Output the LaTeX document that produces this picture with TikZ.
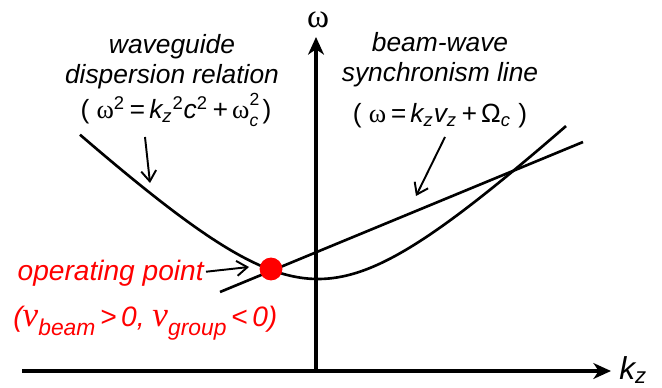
\documentclass[tikz,border=0pt]{standalone}
\usepackage{fontspec}
\setmainfont{Liberation Sans}
\newfontfamily\grk{Liberation Serif}
\usetikzlibrary{arrows.meta,positioning}
\newcommand\bothidx[2]{\rlap{\raisebox{0.5em}{\fontsize{10}{10}\selectfont #1}}\raisebox{-0.3em}{\fontsize{10}{10}\selectfont #2}}
\newcommand\bigv{{\grk\fontsize{20}{20}\selectfont v}}
\newcommand\vidx[1]{\raisebox{-0.35em}{\fontsize{13}{13}\selectfont #1}}
\newcommand\om{{\grk\upshape ω}}
\begin{document}
\begin{tikzpicture}[x=0.02cm, y=-0.02cm]
    \tikzset{
        axis/.style={line width=1.9pt, -{Stealth[length=10pt, width=9pt, inset=3pt]}},
        curve/.style={line width=1.5pt},
        pointer/.style={line width=1.1pt, -{Straight Barb[length=6pt, width=8.5pt]}},
        note/.style={font=\fontsize{15}{17}\selectfont\itshape, align=center, inner sep=0},
        opnote/.style={font=\fontsize{16}{19}\selectfont\itshape, text=red, inner sep=0},
        opdot/.style={circle, fill=red, minimum size=13pt, inner sep=0}
    }
    \useasboundingbox (0,0) rectangle (662,388);

    % axes
    \coordinate (origin) at (316,371);
    \coordinate (kstart) at (22,371);
    \coordinate (kend) at (611,371);
    \coordinate (wend) at (316,37);
    \draw[axis] (kstart) -- (kend);
    \draw[axis] (origin) -- (wend);
    \node[inner sep=0, anchor=base west] (klabel) at (619,379) {\fontsize{18}{18}\selectfont\itshape k\textsubscript{z}};
    \node[inner sep=0] (wlabel) at (318,20) {\grk\fontsize{19}{19}\selectfont ω};

    % dispersion curve and beam line
    \draw[curve] plot[domain=80:566, samples=120, smooth]
        (\x, {279 - 10*(sqrt(110.25 + (0.095*(\x-318))^2) - 10.5)});
    \coordinate (bstart) at (220,292);
    \coordinate (bend) at (583,142);
    \draw[curve] (bstart) -- (bend);

    % labels
    \node[note] (wgname) at (172,62) {waveguide\\dispersion relation};
    \node[note] (wgeq) at (176,110) {{\upshape(} \om\textsuperscript{\upshape 2}\,=\,k\textsubscript{z}\textsuperscript{\upshape 2}c\textsuperscript{\upshape 2}\,+\,\om\bothidx{\upshape 2}{c}\,{\upshape)}};
    \node[note] (bwname) at (440,60) {beam-wave\\synchronism line};
    \node[note] (bweq) at (440,116) {{\upshape(} \om\,=\,k\textsubscript{z}v\textsubscript{z}\,+\,{\upshape Ω}\textsubscript{c} {\upshape)}};

    \coordinate (wgtail) at (145,137);
    \coordinate (wgtip) at (150,183);
    \draw[pointer] (wgtail) -- (wgtip);
    \coordinate (bwtail) at (445,137);
    \coordinate (bwtip) at (416,196);
    \draw[pointer] (bwtail) -- (bwtip);

    % operating point
    \node[opdot] (op) at (271,269) {};
    \node[opnote, anchor=base east] (opname) at (204,280) {operating point};
    \node[opnote, anchor=base west] (opcond) at (13,326) {(\bigv\vidx{beam}\,>\,0, \bigv\vidx{group}\,<\,0)};
    \coordinate (optip) at (249,267);
    \draw[pointer] (opname.east) ++(2,-1) coordinate (optail) -- (optip);
\end{tikzpicture}
\end{document}
